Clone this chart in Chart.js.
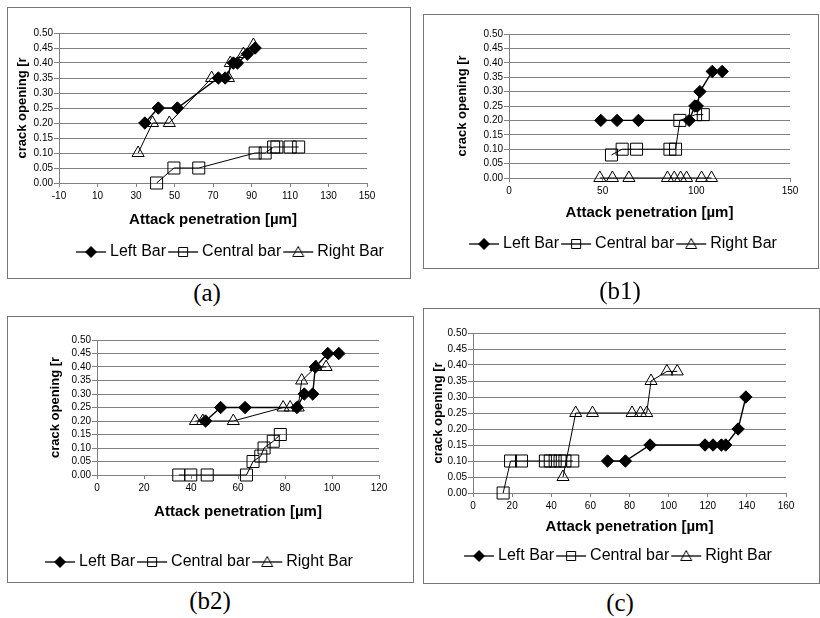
<!DOCTYPE html>
<html>
<head>
<meta charset="utf-8">
<script src="https://cdn.jsdelivr.net/npm/chart.js@4.4.1/dist/chart.umd.min.js"></script>
<style>
  body { margin: 0; background: #fff; width: 820px; height: 618px; position: relative; overflow: hidden; }
  canvas { position: absolute; }
  .box { position: absolute; border: 1px solid #767676; box-sizing: border-box; pointer-events: none; }
  .cap { position: absolute; font-family: 'Liberation Serif', 'Times New Roman', serif; font-size: 25px;
         transform: translate(-50%, -50%); white-space: nowrap; color: #000; }
</style>
</head>
<body>
<canvas id="ca"></canvas><div class="box" id="ba"></div>
<canvas id="cb1"></canvas><div class="box" id="bb1"></div>
<canvas id="cb2"></canvas><div class="box" id="bb2"></div>
<canvas id="cc"></canvas><div class="box" id="bc"></div>

<script>
// ---- data ----
const seriesNames = ['Left Bar', 'Central bar', 'Right Bar'];
const yTicks = [0, 0.05, 0.10, 0.15, 0.20, 0.25, 0.30, 0.35, 0.40, 0.45, 0.50];

// (a)
const aTicks = [-10, 10, 30, 50, 70, 90, 110, 130, 150];
const aLeftX = [34.6, 41.6, 51.5, 72.8, 76.3, 80.6, 82.7, 87.9, 91.9];
const aLeftY = [0.20, 0.25, 0.25, 0.35, 0.35, 0.40, 0.40, 0.43, 0.45];
const aCentX = [40.7, 49.7, 62.6, 91.9, 97.1, 101.5, 103.2, 110.1, 114.5];
const aCentY = [0.00, 0.05, 0.05, 0.10, 0.10, 0.12, 0.12, 0.12, 0.12];
const aRightX = [31.1, 38.6, 47.3, 69.3, 78.0, 79.0, 85.8, 91.0];
const aRightY = [0.10, 0.20, 0.20, 0.35, 0.35, 0.40, 0.43, 0.46];

// (b1)
const b1Ticks = [0, 50, 100, 150];
const b1LeftX = [49.0, 57.7, 69.1, 96.2, 99.2, 100.5, 101.9, 108.5, 113.8];
const b1LeftY = [0.20, 0.20, 0.20, 0.20, 0.25, 0.25, 0.30, 0.37, 0.37];
const b1CentX = [54.7, 60.4, 68.1, 85.9, 88.9, 91.2, 99.6, 103.7];
const b1CentY = [0.08, 0.10, 0.10, 0.10, 0.10, 0.20, 0.22, 0.22];
const b1RightX = [48.5, 55.2, 64.0, 84.6, 88.2, 91.6, 94.8, 102.8, 108.1];
const b1RightY = [0, 0, 0, 0, 0, 0, 0, 0, 0];

// (b2)
const b2Ticks = [0, 20, 40, 60, 80, 100, 120];
const b2LeftX = [46.2, 52.6, 63.0, 85.1, 88.2, 91.8, 92.9, 98.2, 102.9];
const b2LeftY = [0.20, 0.25, 0.25, 0.25, 0.30, 0.30, 0.40, 0.45, 0.45];
const b2CentX = [34.8, 39.9, 46.9, 63.6, 66.4, 69.7, 71.1, 75.0, 78.0];
const b2CentY = [0.00, 0.00, 0.00, 0.00, 0.05, 0.07, 0.10, 0.125, 0.15];
const b2RightX = [41.9, 45.0, 58.0, 79.2, 82.2, 85.6, 87.1, 93.2, 97.5];
const b2RightY = [0.20, 0.20, 0.20, 0.25, 0.25, 0.25, 0.35, 0.40, 0.40];

// (c)
const cTicks = [0, 20, 40, 60, 80, 100, 120, 140, 160];
const cLeftX = [68.8, 77.9, 90.5, 118.6, 122.7, 127.0, 129.2, 135.5, 139.5];
const cLeftY = [0.10, 0.10, 0.15, 0.15, 0.15, 0.15, 0.15, 0.20, 0.30];
const cCentX = [15.4, 19.2, 24.8, 37.0, 39.5, 42.0, 44.5, 47.0, 51.0];
const cCentY = [0.00, 0.10, 0.10, 0.10, 0.10, 0.10, 0.10, 0.10, 0.10];
const cRightX = [46.0, 52.5, 61.1, 81.3, 85.6, 88.8, 91.0, 99.1, 104.4];
const cRightY = [0.05, 0.25, 0.25, 0.25, 0.25, 0.25, 0.35, 0.38, 0.38];

// ---- layout of the four panels (page pixels) ----
const panels = [
  { key: 'a',  cap: '(a)',  capAt: [207, 293], box: [7, 7, 411, 279],   plot: [59, 33, 367, 183],
    xMin: -10, xMax: 150, ticks: aTicks, titleX: 22, titleY: 220, legend: [232, 252],
    xs: [aLeftX, aCentX, aRightX], ys: [aLeftY, aCentY, aRightY] },
  { key: 'b1', cap: '(b1)', capAt: [620, 291], box: [423, 14, 819, 269], plot: [509, 34, 790, 178],
    xMin: 0, xMax: 150, ticks: b1Ticks, titleX: 462, titleY: 213, legend: [625, 244],
    xs: [b1LeftX, b1CentX, b1RightX], ys: [b1LeftY, b1CentY, b1RightY] },
  { key: 'b2', cap: '(b2)', capAt: [210, 601], box: [7, 316, 414, 583], plot: [97, 340, 379, 475],
    xMin: 0, xMax: 120, ticks: b2Ticks, titleX: 55, titleY: 512, legend: [201, 562],
    xs: [b2LeftX, b2CentX, b2RightX], ys: [b2LeftY, b2CentY, b2RightY] },
  { key: 'c',  cap: '(c)',  capAt: [620, 603], box: [423, 308, 820, 584], plot: [473, 333, 786, 493],
    xMin: 0, xMax: 160, ticks: cTicks, titleX: 438, titleY: 527, legend: [620, 556],
    xs: [cLeftX, cCentX, cRightX], ys: [cLeftY, cCentY, cRightY] }
];

const FONT = "'Liberation Sans', Arial, sans-serif";
const markers = ['rectRot', 'rect', 'triangle'];
const radii = [6.2, 8.5, 7];
const fills = ['#000', 'rgba(0,0,0,0)', 'rgba(0,0,0,0)'];
const lineW = [1.4, 1, 1];

// legend icon: short line with the marker on it
function makeIcon(i) {
  const c = document.createElement('canvas');
  c.width = 32; c.height = 16;
  const g = c.getContext('2d');
  g.strokeStyle = '#000';
  g.lineWidth = 1.3;
  g.beginPath(); g.moveTo(1, 8); g.lineTo(31, 8); g.stroke();
  g.lineWidth = 1;
  g.beginPath();
  if (i === 0) {
    g.moveTo(16, 2); g.lineTo(22, 8); g.lineTo(16, 14); g.lineTo(10, 8); g.closePath();
    g.fillStyle = '#000'; g.fill();
  } else if (i === 1) {
    g.rect(11.5, 3.5, 9, 9); g.stroke();
  } else {
    g.moveTo(16, 2.5); g.lineTo(21.5, 12.5); g.lineTo(10.5, 12.5); g.closePath(); g.stroke();
  }
  return c;
}
const icons = [0, 1, 2].map(makeIcon);

// moves the legend row to a fixed spot
const placeLegend = {
  id: 'placeLegend',
  afterLayout(chart, args, opts) {
    const lg = chart.legend;
    if (!lg) return;
    const w = lg.right - lg.left, h = lg.bottom - lg.top;
    lg.left = opts.cx - w / 2; lg.right = lg.left + w;
    lg.top = opts.cy - opts.pad - opts.size / 2; lg.bottom = lg.top + h;
  }
};

panels.forEach(p => {
  const [bl, bt, br, bb] = p.box;
  const [pl, pt, pr, pb] = p.plot;
  const W = br - bl, H = bb - bt;
  const cv = document.getElementById('c' + p.key);
  cv.width = W; cv.height = H;
  cv.style.left = bl + 'px'; cv.style.top = bt + 'px';
  cv.style.width = W + 'px'; cv.style.height = H + 'px';
  const bx = document.getElementById('b' + p.key);
  bx.style.left = bl + 'px'; bx.style.top = bt + 'px';
  bx.style.width = W + 'px'; bx.style.height = H + 'px';
  const cap = document.createElement('div');
  cap.className = 'cap'; cap.textContent = p.cap;
  cap.style.left = p.capAt[0] + 'px'; cap.style.top = p.capAt[1] + 'px';
  document.body.appendChild(cap);

  const yTitleSize = 13, xTitleSize = 15, legSize = 16, legPad = 6;
  const axisLeft = p.titleX - bl - yTitleSize * 1.2 / 2;
  const yAxisW = (pl - bl) - axisLeft;
  const xAxisH = p.titleY - pb + xTitleSize * 1.2 / 2;
  const legH = legSize + legPad + 10;
  const padBottom = H - (pb - bt) - xAxisH - legH;

  const datasets = seriesNames.map((name, i) => ({
    label: name,
    data: p.xs[i].map((x, j) => ({ x: x, y: p.ys[i][j] })),
    showLine: true,
    borderColor: '#000',
    borderWidth: lineW[i],
    pointStyle: markers[i],
    pointRadius: radii[i],
    pointBorderWidth: 1,
    pointBorderColor: '#000',
    pointBackgroundColor: fills[i],
    tension: 0,
    clip: false
  }));

  new Chart(cv, {
    type: 'scatter',
    data: { datasets: datasets },
    plugins: [placeLegend],
    options: {
      responsive: false,
      animation: false,
      events: [],
      layout: { padding: { left: axisLeft, top: pt - bt, right: W - (pr - bl), bottom: padBottom } },
      scales: {
        x: {
          type: 'linear', min: p.xMin, max: p.xMax,
          afterBuildTicks: s => { s.ticks = p.ticks.map(v => ({ value: v })); },
          afterFit: s => { s.height = xAxisH; },
          grid: { drawOnChartArea: false, drawTicks: true, tickLength: 4, color: '#808080' },
          border: { display: true, color: '#808080', width: 1 },
          ticks: { color: '#000', font: { family: FONT, size: 10 }, padding: 3, maxRotation: 0, autoSkip: false },
          title: { display: true, text: 'Attack penetration [µm]', color: '#000',
                   font: { family: FONT, size: xTitleSize, weight: 'bold' }, padding: 0 }
        },
        y: {
          type: 'linear', min: 0, max: 0.5,
          afterBuildTicks: s => { s.ticks = yTicks.map(v => ({ value: v })); },
          afterFit: s => { s.width = yAxisW; },
          grid: { color: '#808080', lineWidth: 1, drawTicks: true, tickLength: 5 },
          border: { display: true, color: '#808080', width: 1 },
          ticks: { color: '#000', font: { family: FONT, size: 10 }, padding: 1, autoSkip: false,
                   callback: v => v.toFixed(2) },
          title: { display: true, text: 'crack opening [r', color: '#000',
                   font: { family: FONT, size: yTitleSize, weight: 'bold' }, padding: 0 }
        }
      },
      plugins: {
        tooltip: { enabled: false },
        placeLegend: { cx: p.legend[0] - bl, cy: p.legend[1] - bt, pad: legPad, size: legSize },
        legend: {
          position: 'bottom',
          labels: {
            color: '#000',
            font: { family: FONT, size: legSize },
            usePointStyle: true,
            pointStyleWidth: 22,
            padding: legPad,
            generateLabels: chart => chart.data.datasets.map((d, i) => ({
              text: d.label, pointStyle: icons[i], datasetIndex: i,
              fillStyle: '#000', strokeStyle: '#000', lineWidth: 0, hidden: false
            }))
          }
        }
      }
    }
  });
});
</script>
</body>
</html>
